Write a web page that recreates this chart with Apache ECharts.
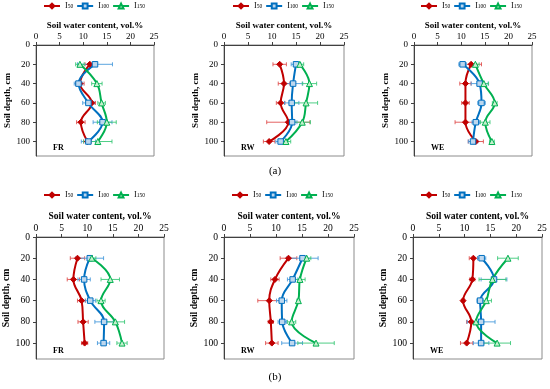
<!DOCTYPE html>
<html><head><meta charset="utf-8">
<script src="https://cdn.jsdelivr.net/npm/echarts@6/dist/echarts.min.js"></script>
<style>html,body{margin:0;padding:0;background:#fff}#c{width:550px;height:389px}</style>
</head><body><div id="c"></div>
<script>
const depths = [20, 40, 60, 80, 100];
const depthTicks = [0, 20, 40, 60, 80, 100];
const waterTicks = [0, 5, 10, 15, 20, 25];
const seriesNames = ['I50', 'I100', 'I150'];
const panelLabels = ['FR', 'RW', 'WE', 'FR', 'RW', 'WE'];
const captions = ['(a)', '(b)'];
const xAxisTitle = 'Soil water content, vol.%';
const yAxisTitle = 'Soil depth, cm';

// (a) FR
const aFR_I50 = [11.4, 9.3, 11.8, 9.5, 10.9];
const aFR_I50_err = [1.0, 0.9, 0.8, 0.9, 0.8];
const aFR_I100 = [12.5, 9.0, 11.1, 14.1, 11.1];
const aFR_I100_err = [3.7, 0.9, 1.2, 2.0, 1.5];
const aFR_I150 = [9.3, 12.9, 13.9, 15.0, 13.1];
const aFR_I150_err = [0.9, 1.1, 0.8, 2.0, 3.0];
// (a) RW
const aRW_I50 = [11.6, 12.5, 11.8, 13.4, 9.4];
const aRW_I50_err = [1.4, 1.2, 0.9, 4.5, 1.2];
const aRW_I100 = [15.0, 14.4, 14.1, 14.2, 11.8];
const aRW_I100_err = [1.0, 2.0, 1.5, 1.0, 1.0];
const aRW_I150 = [15.8, 17.8, 17.1, 16.3, 12.9];
const aRW_I150_err = [0.8, 1.5, 2.4, 1.7, 1.0];
// (a) WE
const aWE_I50 = [12.1, 10.9, 10.9, 10.9, 13.1];
const aWE_I50_err = [2.2, 1.2, 0.8, 2.2, 1.6];
const aWE_I100 = [10.3, 13.9, 14.3, 13.1, 12.5];
const aWE_I100_err = [0.8, 1.8, 0.8, 0.8, 1.0];
const aWE_I150 = [13.0, 14.8, 17.1, 15.1, 16.5];
const aWE_I150_err = [0.8, 1.0, 0.5, 1.0, 0.5];
// (b) FR
const bFR_I50 = [8.1, 7.3, 8.9, 9.2, 9.5];
const bFR_I50_err = [1.4, 1.2, 0.8, 1.0, 0.6];
const bFR_I100 = [10.5, 9.4, 10.6, 13.3, 13.2];
const bFR_I100_err = [2.7, 1.2, 1.0, 1.8, 1.2];
const bFR_I150 = [10.9, 14.5, 12.7, 15.5, 16.8];
const bFR_I150_err = [0.8, 1.8, 0.8, 1.8, 1.0];
// (b) RW
const bRW_I50 = [12.4, 9.8, 8.7, 9.0, 9.2];
const bRW_I50_err = [1.6, 0.8, 2.2, 0.5, 1.2];
const bRW_I100 = [15.1, 13.2, 11.1, 11.2, 13.1];
const bRW_I100_err = [3.0, 1.0, 1.0, 0.8, 2.0];
const bRW_I150 = [15.9, 14.6, 14.3, 13.0, 17.7];
const bRW_I150_err = [0.8, 1.0, 0.3, 0.8, 3.5];
// (b) WE
const bWE_I50 = [11.7, 11.5, 9.7, 11.3, 10.4];
const bWE_I50_err = [0.8, 0.5, 0.3, 0.9, 1.2];
const bWE_I100 = [13.3, 15.7, 13.0, 13.2, 13.2];
const bWE_I100_err = [0.8, 2.5, 0.6, 2.7, 1.5];
const bWE_I150 = [18.4, 15.4, 14.2, 12.2, 16.3];
const bWE_I150_err = [2.0, 2.6, 1.0, 0.8, 2.6];

const panelData = [
  [[aFR_I50, aFR_I50_err], [aFR_I100, aFR_I100_err], [aFR_I150, aFR_I150_err]],
  [[aRW_I50, aRW_I50_err], [aRW_I100, aRW_I100_err], [aRW_I150, aRW_I150_err]],
  [[aWE_I50, aWE_I50_err], [aWE_I100, aWE_I100_err], [aWE_I150, aWE_I150_err]],
  [[bFR_I50, bFR_I50_err], [bFR_I100, bFR_I100_err], [bFR_I150, bFR_I150_err]],
  [[bRW_I50, bRW_I50_err], [bRW_I100, bRW_I100_err], [bRW_I150, bRW_I150_err]],
  [[bWE_I50, bWE_I50_err], [bWE_I100, bWE_I100_err], [bWE_I150, bWE_I150_err]]
];

// layout (pixels)
const rowLayout = [
  {top: 45, height: 111, font: 9, nameGap: 15, legendTop: 0, labelMargin: 4},
  {top: 237, height: 122, font: 9.6, nameGap: 15.5, legendTop: 189, labelMargin: 4}
];
const panelBoxes = [
  {left: 36, width: 118, row: 0}, {left: 224, width: 120, row: 0}, {left: 414, width: 118, row: 0},
  {left: 36, width: 128, row: 1}, {left: 224, width: 130, row: 1}, {left: 413, width: 129, row: 1}
];
const legendLefts = [41, 230, 418, 41, 229, 418];

const styles = [
  {line: '#C00000', fill: '#C00000', err: '#E0504F', symbol: 'diamond', size: 6},
  {line: '#0070C0', fill: '#BDD7EE', err: '#4A9BDB', symbol: 'rect', size: 5.5},
  {line: '#00B050', fill: '#C6EFCE', err: '#3CC878', symbol: 'triangle', size: 6}
];
const FONT = '"Liberation Serif", "Times New Roman", serif';

function errRender(params, api) {
  const x = api.value(0), y = api.value(1), e = api.value(2);
  const p1 = api.coord([x - e, y]), p2 = api.coord([x + e, y]);
  const h = 2;
  const st = {stroke: api.visual('color'), lineWidth: 0.9};
  return {type: 'group', children: [
    {type: 'line', shape: {x1: p1[0], y1: p1[1], x2: p2[0], y2: p2[1]}, style: st},
    {type: 'line', shape: {x1: p1[0], y1: p1[1] - h, x2: p1[0], y2: p1[1] + h}, style: st},
    {type: 'line', shape: {x1: p2[0], y1: p2[1] - h, x2: p2[0], y2: p2[1] + h}, style: st}
  ]};
}

const grid = [], xAxis = [], yAxis = [], series = [], legend = [], title = [];
panelBoxes.forEach((b, i) => {
  const r = rowLayout[b.row];
  grid.push({left: b.left, top: r.top, width: b.width, height: r.height, show: true,
    borderColor: '#8c8c8c', borderWidth: 1, backgroundColor: 'transparent', containLabel: false});
  xAxis.push({gridIndex: i, type: 'value', position: 'top', min: 0, max: 25, interval: 5,
    name: xAxisTitle, nameLocation: 'middle', nameGap: r.nameGap,
    nameTextStyle: {fontFamily: FONT, fontWeight: 'bold', fontSize: r.font, color: '#000'},
    axisLine: {show: true, lineStyle: {color: '#404040', width: 1}},
    axisTick: {show: true, length: 3, lineStyle: {color: '#404040'}},
    axisLabel: {fontFamily: FONT, fontSize: r.font, color: '#000', margin: r.labelMargin},
    splitLine: {show: false}});
  yAxis.push({gridIndex: i, type: 'value', inverse: true, min: 0, max: 115,
    name: yAxisTitle, nameLocation: 'middle', nameGap: 19.5, nameRotate: 90,
    nameTextStyle: {fontFamily: FONT, fontWeight: 'bold', fontSize: r.font, color: '#000'},
    axisLine: {show: true, lineStyle: {color: '#404040', width: 1}},
    axisTick: {show: true, length: 3, customValues: depthTicks, lineStyle: {color: '#404040'}},
    axisLabel: {fontFamily: FONT, fontSize: r.font, color: '#000', margin: 6, customValues: depthTicks},
    splitLine: {show: false}});
  legend.push({left: legendLefts[i], top: r.legendTop, orient: 'horizontal', data: seriesNames,
    itemWidth: 16, itemHeight: 6, itemGap: 3, padding: 2, selectedMode: false,
    textStyle: {fontFamily: FONT, fontSize: 7.5, color: '#000',
      rich: {m: {fontFamily: FONT, fontSize: 8, color: '#000', verticalAlign: 'bottom'},
             s: {fontFamily: FONT, fontSize: 5.5, color: '#000', verticalAlign: 'bottom'}}},
    formatter: n => '{m|I}{s|' + n.slice(1) + '}'});
  title.push({text: panelLabels[i], left: b.left + 17, top: r.top + r.height - 12,
    textStyle: {fontFamily: FONT, fontWeight: 'bold', fontSize: 8, color: '#000'}, padding: 0});
  panelData[i].forEach((sd, k) => {
    const vals = sd[0], errs = sd[1], s = styles[k];
    series.push({type: 'custom', name: seriesNames[k] + ' error', xAxisIndex: i, yAxisIndex: i,
      renderItem: errRender, itemStyle: {color: s.err}, z: 2, silent: true,
      encode: {x: 0, y: 1},
      data: vals.map((v, j) => [v, depths[j], errs[j]])});
    series.push({type: 'line', name: seriesNames[k], xAxisIndex: i, yAxisIndex: i,
      smooth: 0.4, symbol: s.symbol, symbolSize: s.size, showSymbol: true, z: 3,
      lineStyle: {color: s.line, width: 2},
      itemStyle: {color: s.fill, borderColor: s.line, borderWidth: 1},
      data: vals.map((v, j) => [v, depths[j]])});
  });
});
title.push({text: captions[0], left: 'center', top: 166, padding: 0,
  textStyle: {fontFamily: FONT, fontSize: 11, fontWeight: 'normal', color: '#000'}});
title.push({text: captions[1], left: 'center', top: 372, padding: 0,
  textStyle: {fontFamily: FONT, fontSize: 11, fontWeight: 'normal', color: '#000'}});

const chart = echarts.init(document.getElementById('c'), null, {renderer: 'canvas'});
chart.setOption({animation: false, backgroundColor: '#fff', grid, xAxis, yAxis, series, legend, title});
</script></body></html>
